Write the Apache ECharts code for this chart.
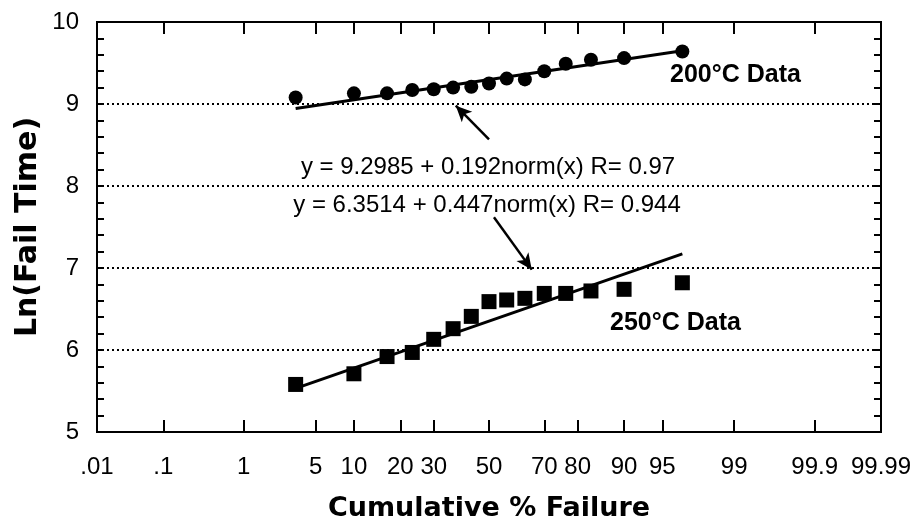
<!DOCTYPE html>
<html>
<head>
<meta charset="utf-8">
<script src="https://cdn.jsdelivr.net/npm/echarts@6/dist/echarts.min.js"></script>
<style>
  html, body { margin: 0; padding: 0; background: #fff; }
  #chart { width: 912px; height: 520px; }
</style>
</head>
<body>
<div id="chart"></div>
<script>
// Probability-scale tick labels along the x axis (cumulative % failure)
const probTicks = ['.01', '.1', '1', '5', '10', '20', '30', '50', '70', '80', '90', '95', '99', '99.9', '99.99'];
// Cumulative % failure of each ranked specimen
const cumPercent = [3.33, 10, 16.67, 23.33, 30, 36.67, 43.33, 50, 56.67, 63.33, 70, 76.67, 83.33, 90, 96.67];
// Ln(fail time) of the ranked specimens
const lnTime200 = [9.08, 9.13, 9.13, 9.17, 9.18, 9.20, 9.21, 9.25, 9.31, 9.30, 9.40, 9.49, 9.54, 9.56, 9.64];
const lnTime250 = [5.58, 5.71, 5.92, 5.97, 6.13, 6.26, 6.41, 6.59, 6.61, 6.63, 6.69, 6.69, 6.72, 6.74, 6.82];
// Least-squares fits: y = intercept + slope * norm(x)
const fit200 = { intercept: 9.2985, slope: 0.192, r: 0.97 };
const fit250 = { intercept: 6.3514, slope: 0.447, r: 0.944 };
// Ln(fail time) axis range
const yRange = [5, 10];

// Inverse standard normal CDF (Acklam's rational approximation)
function normInv(p) {
  const a = [-3.969683028665376e+01, 2.209460984245205e+02, -2.759285104469687e+02, 1.383577518672690e+02, -3.066479806614716e+01, 2.506628277459239e+00];
  const b = [-5.447609879822406e+01, 1.615858368580409e+02, -1.556989798598866e+02, 6.680131188771972e+01, -1.328068155288572e+01];
  const c = [-7.784894002430293e-03, -3.223964580411365e-01, -2.400758277161838e+00, -2.549732539343734e+00, 4.374664141464968e+00, 2.938163982698783e+00];
  const d = [7.784695709041462e-03, 3.224671290700398e-01, 2.445134137142996e+00, 3.754408661907416e+00];
  const pl = 0.02425, ph = 1 - pl;
  let q, r;
  if (p < pl) {
    q = Math.sqrt(-2 * Math.log(p));
    return (((((c[0] * q + c[1]) * q + c[2]) * q + c[3]) * q + c[4]) * q + c[5]) /
           ((((d[0] * q + d[1]) * q + d[2]) * q + d[3]) * q + 1);
  }
  if (p <= ph) {
    q = p - 0.5; r = q * q;
    return (((((a[0] * r + a[1]) * r + a[2]) * r + a[3]) * r + a[4]) * r + a[5]) * q /
           (((((b[0] * r + b[1]) * r + b[2]) * r + b[3]) * r + b[4]) * r + 1);
  }
  q = Math.sqrt(-2 * Math.log(1 - p));
  return -(((((c[0] * q + c[1]) * q + c[2]) * q + c[3]) * q + c[4]) * q + c[5]) /
          ((((d[0] * q + d[1]) * q + d[2]) * q + d[3]) * q + 1);
}

const toZ = pct => normInv(pct / 100);
const tickZ = probTicks.map(t => toZ(parseFloat(t)));
const xMin = tickZ[0], xMax = tickZ[tickZ.length - 1];

function tickLabel(v) {
  let best = 0;
  tickZ.forEach((z, i) => { if (Math.abs(z - v) < Math.abs(tickZ[best] - v)) best = i; });
  return probTicks[best];
}

const pts200 = cumPercent.map((p, i) => [toZ(p), lnTime200[i]]);
const pts250 = cumPercent.map((p, i) => [toZ(p), lnTime250[i]]);
const zFirst = toZ(cumPercent[0]), zLast = toZ(cumPercent[cumPercent.length - 1]);
const fitLine = f => [[zFirst, f.intercept + f.slope * zFirst], [zLast, f.intercept + f.slope * zLast]];
const eqText = f => `y = ${f.intercept} + ${f.slope}norm(x) R= ${f.r}`;

const BLACK = '#000';
const FONT = '"Liberation Sans", Arial, Helvetica, sans-serif';
const HEAVY = '"DejaVu Sans", "Liberation Sans", sans-serif';

const arrowStyle = { color: BLACK, width: 2.5, type: 'solid', opacity: 1 };
function arrow(from, to) {
  return [
    { coord: from, symbol: 'none' },
    { coord: to, symbol: 'arrow', symbolSize: [11, 16] }
  ];
}

const chart = echarts.init(document.getElementById('chart'), null, { renderer: 'canvas' });

const lineBlack = { color: BLACK, width: 2, opacity: 1 };
const xCommon = {
  type: 'value', min: xMin, max: xMax,
  axisLine: { show: true, onZero: false, lineStyle: lineBlack },
  axisTick: { show: true, inside: true, length: 12, customValues: tickZ, lineStyle: lineBlack },
  splitLine: { show: false }
};
const yCommon = {
  type: 'value', min: yRange[0], max: yRange[1], interval: 1,
  axisLine: { show: true, onZero: false, lineStyle: lineBlack },
  axisTick: { show: true, inside: true, length: 7, lineStyle: lineBlack },
  minorTick: { show: true, splitNumber: 5, length: 7, lineStyle: lineBlack }
};

chart.setOption({
  animation: false,
  backgroundColor: '#fff',
  grid: {
    left: 97, right: 31, top: 22, bottom: 88, containLabel: false, outerBoundsMode: 'none',
    show: true, borderColor: BLACK, borderWidth: 2, backgroundColor: 'transparent'
  },
  xAxis: [
    Object.assign({}, xCommon, {
      position: 'bottom',
      name: 'Cumulative % Failure',
      nameLocation: 'middle',
      nameGap: 63,
      nameTextStyle: { color: BLACK, fontFamily: HEAVY, fontWeight: 'bold', fontSize: 27 },
      axisLabel: {
        show: true, customValues: tickZ, formatter: v => tickLabel(v),
        color: BLACK, fontFamily: FONT, fontSize: 24, margin: 23
      }
    }),
    Object.assign({}, xCommon, { position: 'top', axisLabel: { show: false } })
  ],
  yAxis: [
    Object.assign({}, yCommon, {
      position: 'left',
      name: 'Ln(Fail Time)',
      nameLocation: 'middle',
      nameGap: 54,
      nameMoveOverlap: false,
      nameTextStyle: { color: BLACK, fontFamily: HEAVY, fontWeight: 'bold', fontSize: 30 },
      axisLabel: { color: BLACK, fontFamily: FONT, fontSize: 24, margin: 18 },
      splitLine: { show: true, showMinLine: false, showMaxLine: false, lineStyle: { color: BLACK, width: 2, type: [2, 3] } }
    }),
    Object.assign({}, yCommon, {
      position: 'right',
      axisLabel: { show: false },
      splitLine: { show: false }
    })
  ],
  series: [
    {
      name: '200°C fit', type: 'line', data: fitLine(fit200), symbol: 'none',
      lineStyle: { color: BLACK, width: 3, opacity: 1 }, silent: true, z: 3,
      markLine: {
        silent: true, symbol: ['none', 'arrow'], label: { show: false }, lineStyle: arrowStyle,
        itemStyle: { color: BLACK, opacity: 1 },
        data: [arrow([0, 8.57], [-0.315, 8.98])]
      }
    },
    {
      name: '250°C fit', type: 'line', data: fitLine(fit250), symbol: 'none',
      lineStyle: { color: BLACK, width: 3, opacity: 1 }, silent: true, z: 3,
      markLine: {
        silent: true, symbol: ['none', 'arrow'], label: { show: false }, lineStyle: arrowStyle,
        itemStyle: { color: BLACK, opacity: 1 },
        data: [arrow([0.047, 7.62], [0.406, 6.98])]
      }
    },
    {
      name: '200°C Data', type: 'scatter', data: pts200, symbol: 'circle', symbolSize: 14,
      itemStyle: { color: BLACK, opacity: 1 }, z: 4
    },
    {
      name: '250°C Data', type: 'scatter', data: pts250, symbol: 'rect', symbolSize: 15,
      itemStyle: { color: BLACK, opacity: 1 }, z: 4
    }
  ],
  graphic: [
    { type: 'text', x: 488, y: 167, z: 10, style: { text: eqText(fit200), align: 'center', verticalAlign: 'middle', font: '24px ' + FONT, fill: BLACK } },
    { type: 'text', x: 487, y: 205, z: 10, style: { text: eqText(fit250), align: 'center', verticalAlign: 'middle', font: '24px ' + FONT, fill: BLACK } },
    { type: 'text', x: 670, y: 75, z: 10, style: { text: '200°C Data', align: 'left', verticalAlign: 'middle', font: 'bold 25px ' + FONT, fill: BLACK } },
    { type: 'text', x: 610, y: 323, z: 10, style: { text: '250°C Data', align: 'left', verticalAlign: 'middle', font: 'bold 25px ' + FONT, fill: BLACK } }
  ]
});
</script>
</body>
</html>
